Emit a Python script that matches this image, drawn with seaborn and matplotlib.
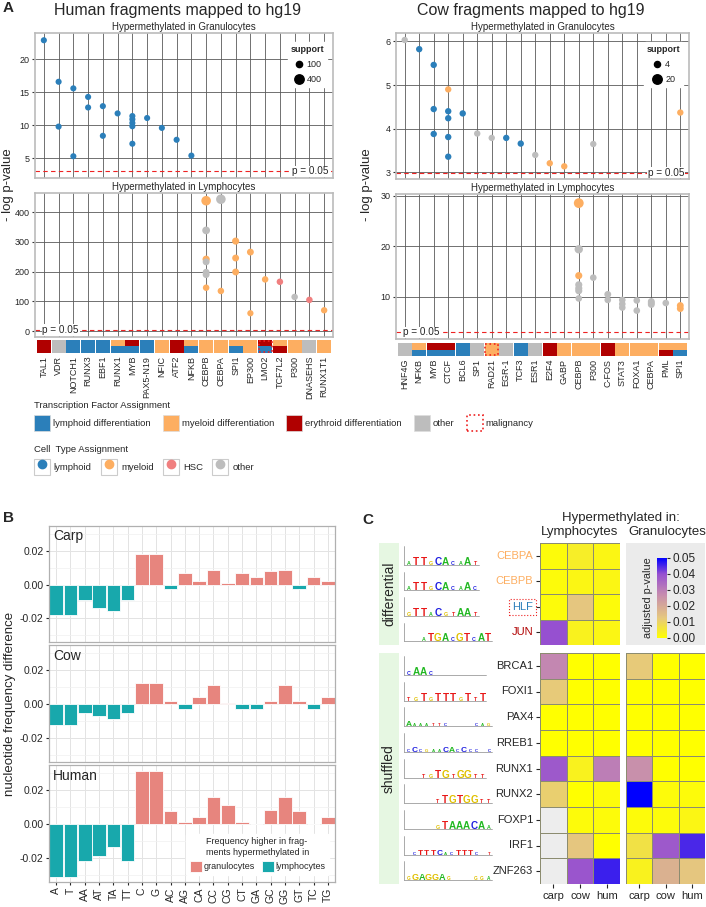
import numpy as np
import pandas as pd
import matplotlib
matplotlib.use('Agg')
import matplotlib.pyplot as plt
import seaborn as sns
from matplotlib.patches import Patch, Rectangle
from matplotlib.lines import Line2D
from matplotlib.colors import LinearSegmentedColormap
from matplotlib.transforms import blended_transform_factory

# ---------------- panel A: human fragments ----------------
human_tfs = ['TAL1', 'VDR', 'NOTCH1', 'RUNX3', 'EBF1', 'RUNX1', 'MYB', 'PAX5-N19', 'NFIC', 'ATF2',
             'NFKB', 'CEBPB', 'CEBPA', 'SPI1', 'EP300', 'LMO2', 'TCF7L2', 'P300', 'DNASEHS', 'RUNX1T1']
# TF assignment of each tile (upper / lower half): L lymphoid, M myeloid, E erythroid, O other
human_tf_upper = ['E', 'O', 'L', 'L', 'L', 'M', 'E', 'L', 'M', 'E', 'M', 'M', 'M', 'M', 'M', 'E', 'M', 'M', 'O', 'M']
human_tf_lower = ['E', 'O', 'L', 'L', 'L', 'L', 'L', 'L', 'M', 'E', 'L', 'M', 'M', 'L', 'M', 'L', 'E', 'M', 'O', 'M']
human_malignancy = ['LMO2']

human_gran_tf = ['TAL1', 'VDR', 'VDR', 'NOTCH1', 'NOTCH1', 'RUNX3', 'RUNX3', 'EBF1', 'EBF1', 'RUNX1',
                 'MYB', 'MYB', 'MYB', 'MYB', 'MYB', 'PAX5-N19', 'NFIC', 'ATF2', 'NFKB']
human_gran_logp = [22.9, 16.6, 9.8, 15.6, 5.3, 14.3, 12.7, 12.9, 8.4, 11.8,
                   11.4, 10.9, 10.35, 9.85, 7.2, 11.1, 9.6, 7.8, 5.4]
human_gran_cell = ['lymphoid'] * 19
human_gran_support = [90] * 19

human_lymph_tf = ['CEBPB'] * 7 + ['CEBPA'] * 2 + ['SPI1'] * 3 + ['EP300'] * 2 + ['LMO2', 'TCF7L2', 'P300', 'DNASEHS', 'RUNX1T1']
human_lymph_logp = [439, 339, 242, 233, 198, 190, 146, 444, 135, 303, 246, 199, 266, 60, 174, 166, 115, 105, 70]
human_lymph_cell = ['myeloid', 'other', 'myeloid', 'other', 'other', 'other', 'myeloid', 'other', 'myeloid',
                    'myeloid', 'myeloid', 'myeloid', 'myeloid', 'myeloid', 'myeloid', 'HSC', 'other', 'HSC', 'myeloid']
human_lymph_support = [420, 230, 180, 150, 150, 150, 120, 420, 120, 170, 150, 150, 150, 100, 120, 120, 120, 120, 110]

# ---------------- panel A: cow fragments ----------------
cow_tfs = ['HNF4G', 'NFKB', 'MYB', 'CTCF', 'BCL6', 'SP1', 'RAD21', 'EGR-1', 'TCF3', 'ESR1', 'E2F4', 'GABP',
           'CEBPB', 'P300', 'C-FOS', 'STAT3', 'FOXA1', 'CEBPA', 'PML', 'SPI1']
cow_tf_upper = ['O', 'M', 'E', 'E', 'L', 'O', 'M', 'O', 'L', 'O', 'E', 'M', 'M', 'M', 'E', 'M', 'M', 'M', 'M', 'M']
cow_tf_lower = ['O', 'L', 'L', 'L', 'L', 'O', 'M', 'O', 'L', 'O', 'E', 'M', 'M', 'M', 'E', 'M', 'M', 'M', 'E', 'L']
cow_malignancy = ['RAD21']

cow_gran_tf = ['HNF4G', 'NFKB', 'MYB', 'MYB', 'MYB', 'CTCF', 'CTCF', 'CTCF', 'CTCF', 'CTCF', 'BCL6', 'SP1',
               'RAD21', 'EGR-1', 'TCF3', 'ESR1', 'E2F4', 'GABP', 'P300', 'SPI1']
cow_gran_logp = [6.03, 5.82, 5.46, 4.45, 3.88, 4.9, 4.4, 4.24, 3.81, 3.36, 4.35, 3.89,
                 3.79, 3.79, 3.66, 3.40, 3.21, 3.14, 3.65, 4.37]
cow_gran_cell = ['other', 'lymphoid', 'lymphoid', 'lymphoid', 'lymphoid', 'myeloid', 'lymphoid', 'lymphoid',
                 'lymphoid', 'lymphoid', 'lymphoid', 'other', 'other', 'lymphoid', 'lymphoid', 'other',
                 'myeloid', 'myeloid', 'other', 'myeloid']
cow_gran_support = [5] * 20

cow_lymph_tf = ['CEBPB'] * 7 + ['P300'] + ['C-FOS'] * 2 + ['STAT3'] * 3 + ['FOXA1'] * 2 + ['CEBPA'] * 3 + ['PML'] + ['SPI1'] * 2
cow_lymph_logp = [28.5, 19.4, 14.2, 12.4, 11.7, 11.2, 9.7, 13.8, 10.5, 9.4, 9.4, 8.6, 7.9,
                  9.3, 7.3, 9.1, 8.8, 8.5, 8.8, 8.3, 7.7]
cow_lymph_cell = ['myeloid', 'other', 'myeloid'] + ['other'] * 16 + ['myeloid', 'myeloid']
cow_lymph_support = [22, 14, 8, 8, 8, 8, 6, 6, 7, 6, 6, 6, 6, 6, 6, 7, 7, 7, 6, 7, 7]

# ---------------- panel B ----------------
kmers = ['A', 'T', 'AA', 'AT', 'TA', 'TT', 'C', 'G', 'AC', 'AG', 'CA', 'CC', 'CG', 'CT', 'GA', 'GC', 'GG', 'GT', 'TC', 'TG']
carp_diff = [-0.0183, -0.0183, -0.0090, -0.0139, -0.0157, -0.0090, 0.0183, 0.0183, -0.0026, 0.0070,
             0.0022, 0.0086, 0.0010, 0.0070, 0.0044, 0.0080, 0.0086, -0.0026, 0.0044, 0.0022]
cow_diff = [-0.0127, -0.0127, -0.0053, -0.0073, -0.0087, -0.0053, 0.0125, 0.0125, 0.0020, -0.0032,
            0.0044, 0.0113, 0.0003, -0.0032, -0.0032, 0.0016, 0.0113, 0.0020, -0.0032, 0.0044]
human_diff = [-0.0314, -0.0314, -0.0220, -0.0190, -0.0136, -0.0220, 0.0314, 0.0314, 0.0076, 0.0012,
              0.0042, 0.0158, 0.0110, 0.0012, -0.0002, 0.0084, 0.0158, 0.0076, -0.0002, 0.0042]

# ---------------- panel C ----------------
species = ['carp', 'cow', 'hum']
diff_motifs = ['CEBPA', 'CEBPB', 'HLF', 'JUN']
diff_motif_class = ['M', 'M', 'L', 'E']
diff_logos = ['aTTgCAcaAt', 'aTTgCAcaAc', 'gTTaCgtAAt', '..aTGAcGTcAT']
lymph_diff_p = [[0.001, 0.004, 0.002],
                [0.001, 0.002, 0.002],
                [0.001, 0.013, 0.001],
                [0.040, 0.003, 0.002]]
shuf_motifs = ['BRCA1', 'FOXI1', 'PAX4', 'RREB1', 'RUNX1', 'RUNX2', 'FOXP1', 'IRF1', 'ZNF263']
shuf_logos = ['cAAc.......', 'tgTgTTTgTtT', 'Aaaattc....cag', 'cCcgaaCAcCcc.c', '..tgTGtGGtt',
              '....tTGTGGtt', '....gTAAACAa', '.cTTTCacTTTc.t', 'gGAGGAg...gga']
lymph_shuf_p = [[0.028, 0.0, 0.0],
                [0.012, 0.0, 0.0],
                [0.0, 0.0, 0.0],
                [0.0, 0.0, 0.0],
                [0.038, 0.003, 0.030],
                [0.011, 0.0, 0.001],
                [np.nan, 0.001, 0.001],
                [np.nan, 0.013, 0.0],
                [np.nan, 0.039, 0.046]]
gran_shuf_p = [[0.012, 0.0, 0.0],
               [0.0, 0.0, 0.0],
               [0.0, 0.0, 0.0],
               [0.0, 0.0, 0.0],
               [0.026, 0.0, 0.0],
               [0.050, 0.001, 0.001],
               [0.001, 0.001, 0.002],
               [0.007, 0.038, 0.045],
               [0.003, 0.018, 0.013]]

# ---------------- style ----------------
sns.set_style('white')
plt.rcParams['font.family'] = ['Liberation Sans', 'DejaVu Sans']
plt.rcParams['axes.unicode_minus'] = False

cell_pal = {'lymphoid': '#2b7fba', 'myeloid': '#fdae61', 'HSC': '#f07f7f', 'other': '#bdbdbd'}
tf_pal = {'L': '#2b7fba', 'M': '#fdae61', 'E': '#b00000', 'O': '#bdbdbd'}
base_colors = {'A': '#22b822', 'C': '#2020e0', 'G': '#e0c000', 'T': '#e81818'}
pv_cmap = LinearSegmentedColormap.from_list(
    'pv', [(0, '#ffff00'), (0.25, '#e6c87e'), (0.55, '#c58ab0'), (0.8, '#9650d0'), (1, '#0000ff')])
p_line = -np.log(0.05)

W, H = 706, 907
fig = plt.figure(figsize=(W / 100, H / 100), dpi=100)


def box(l, t, r, b):
    return [l / W, 1 - b / H, (r - l) / W, (b - t) / H]


def draw_points(ax, tfs, tf_col, logp, cell, support, size_norm):
    df = pd.DataFrame({'tf': tf_col, 'logp': logp, 'cell': cell, 'support': support})
    df['pos'] = pd.Categorical(df['tf'], categories=tfs).codes
    sns.scatterplot(data=df, x='pos', y='logp', hue='cell', palette=cell_pal, size='support',
                    sizes=(16, 50), size_norm=size_norm, linewidth=0, legend=False, ax=ax, zorder=3)
    ax.set_xlim(-0.6, len(tfs) - 0.4)
    ax.set_xticks(range(len(tfs)))
    ax.set_xticklabels([])
    ax.set_xlabel('')
    ax.set_ylabel('')
    ax.grid(True, color='#5a5a5a', lw=0.6)
    ax.set_axisbelow(True)
    ax.tick_params(axis='x', length=0)
    ax.tick_params(axis='y', left=True, labelsize=6.5, length=2.5, color='#333333', pad=1.5)
    for s in ax.spines.values():
        s.set_color('#bbbbbb')
        s.set_linewidth(1.2)
    ax.axhline(p_line, color='#ee2222', ls=(0, (4, 3)), lw=0.8, zorder=2)


def p_label(ax, right):
    trans = blended_transform_factory(ax.transAxes, ax.transData)
    x = 0.985 if right else 0.025
    ax.text(x, p_line, 'p = 0.05', transform=trans, ha='right' if right else 'left', va='center',
            fontsize=7.2, bbox=dict(fc='white', ec='none', pad=0.6), zorder=4)


def support_legend(ax, values, size_norm):
    lo, hi = size_norm
    handles = [Line2D([], [], ls='', marker='o', color='black',
                      markersize=np.sqrt(16 + (v - lo) / (hi - lo) * 34)) for v in values]
    ax.legend(handles, [str(v) for v in values], title='support', loc='upper right',
              bbox_to_anchor=(0.995, 0.97), fontsize=6.5,
              title_fontproperties={'weight': 'bold', 'size': 6.5}, frameon=True, framealpha=1,
              edgecolor='white', borderpad=0.3, labelspacing=0.7, handletextpad=0.3, handlelength=1.2)


def draw_tiles(ax, tfs, upper, lower, malignant):
    pos = np.arange(len(tfs))
    ax.bar(pos, 0.5, bottom=0.5, width=0.94, color=[tf_pal[c] for c in upper], edgecolor='none', linewidth=0)
    ax.bar(pos, 0.5, bottom=0.0, width=0.94, color=[tf_pal[c] for c in lower], edgecolor='none', linewidth=0)
    for name in malignant:
        i = tfs.index(name)
        ax.add_patch(Rectangle((i - 0.45, 0.04), 0.9, 0.92, fill=False, ec='#ee2222', ls=':', lw=1.2))
    ax.set_xlim(-0.6, len(tfs) - 0.4)
    ax.set_ylim(0, 1)
    ax.set_xticks(pos)
    ax.set_xticklabels(tfs, rotation=90, fontsize=6.5)
    ax.set_yticks([])
    ax.tick_params(axis='x', length=0, pad=2)
    for s in ax.spines.values():
        s.set_visible(False)


# ---- A left: human
ax = fig.add_axes(box(35, 33, 333, 178))
draw_points(ax, human_tfs, human_gran_tf, human_gran_logp, human_gran_cell, human_gran_support, (50, 450))
ax.set_ylim(2.0, 24.0)
ax.set_yticks([5, 10, 15, 20])
ax.set_title('Hypermethylated in Granulocytes', fontsize=7, pad=2.5)
p_label(ax, True)
support_legend(ax, [100, 400], (50, 450))

ax = fig.add_axes(box(35, 193, 333, 337))
draw_points(ax, human_tfs, human_lymph_tf, human_lymph_logp, human_lymph_cell, human_lymph_support, (50, 450))
ax.set_ylim(-20, 465)
ax.set_yticks([0, 100, 200, 300, 400])
ax.set_title('Hypermethylated in Lymphocytes', fontsize=7, pad=2.5)
p_label(ax, False)

ax = fig.add_axes(box(35, 340, 333, 353))
draw_tiles(ax, human_tfs, human_tf_upper, human_tf_lower, human_malignancy)

# ---- A right: cow
ax = fig.add_axes(box(396, 33, 689, 179))
draw_points(ax, cow_tfs, cow_gran_tf, cow_gran_logp, cow_gran_cell, cow_gran_support, (2, 22))
ax.set_ylim(2.85, 6.19)
ax.set_yticks([3, 4, 5, 6])
ax.set_title('Hypermethylated in Granulocytes', fontsize=7, pad=2.5)
p_label(ax, True)
support_legend(ax, [4, 20], (2, 22))

ax = fig.add_axes(box(396, 194, 689, 339))
draw_points(ax, cow_tfs, cow_lymph_tf, cow_lymph_logp, cow_lymph_cell, cow_lymph_support, (2, 22))
ax.set_ylim(1.7, 30.3)
ax.set_yticks([10, 20, 30])
ax.set_title('Hypermethylated in Lymphocytes', fontsize=7, pad=2.5)
p_label(ax, False)

ax = fig.add_axes(box(396, 343, 689, 356))
draw_tiles(ax, cow_tfs, cow_tf_upper, cow_tf_lower, cow_malignancy)

fig.text(178 / W, 1 - 10 / H, 'Human fragments mapped to hg19', ha='center', va='center', fontsize=11.5)
fig.text(531 / W, 1 - 10 / H, 'Cow fragments mapped to hg19', ha='center', va='center', fontsize=11.5)
fig.text(8 / W, 1 - 185 / H, '- log p-value', rotation=90, ha='center', va='center', fontsize=9.5)
fig.text(367 / W, 1 - 185 / H, '- log p-value', rotation=90, ha='center', va='center', fontsize=9.5)

# ---- A legends
tf_handles = [Patch(fc=tf_pal[k], ec='#dddddd', lw=0.5) for k in ['L', 'M', 'E', 'O']]
tf_handles.append(Patch(fc='white', ec='#ee2222', ls=':', lw=1.2))
tf_labels = ['lymphoid differentiation', 'myeloid differentiation', 'erythroid differentiation', 'other', 'malignancy']
fig.legend(tf_handles, tf_labels, loc='upper left', bbox_to_anchor=(34 / W, 1 - 401 / H), ncol=5,
           frameon=False, title='Transcription Factor Assignment', alignment='left', fontsize=6.8,
           title_fontsize=6.8, handlelength=1.7, handleheight=2.3, handletextpad=0.3,
           columnspacing=1.3, borderpad=0, borderaxespad=0)

cell_order = ['lymphoid', 'myeloid', 'HSC', 'other']
cell_handles = [(Patch(fc='white', ec='#cccccc', lw=0.8),
                 Line2D([], [], ls='', marker='o', ms=6, color=cell_pal[c])) for c in cell_order]
fig.legend(cell_handles, cell_order, loc='upper left', bbox_to_anchor=(34 / W, 1 - 445 / H), ncol=4,
           frameon=False, title='Cell  Type Assignment', alignment='left', fontsize=6.8,
           title_fontsize=6.8, handlelength=1.7, handleheight=2.3, handletextpad=0.4,
           columnspacing=1.0, borderpad=0, borderaxespad=0)

# ---------------- panel B ----------------
b_rows = [('Carp', carp_diff, 526, 642), ('Cow', cow_diff, 645, 762), ('Human', human_diff, 765, 882)]
for name, vals, top, bottom in b_rows:
    ax = fig.add_axes(box(49, top, 335, bottom))
    d = pd.DataFrame({'kmer': kmers, 'diff': vals})
    d['higher'] = np.where(d['diff'] > 0, 'granulocytes', 'lymphocytes')
    sns.barplot(data=d, x='kmer', y='diff', hue='higher', order=kmers,
                hue_order=['granulocytes', 'lymphocytes'],
                palette={'granulocytes': '#f8766d', 'lymphocytes': '#00bfc4'},
                dodge=False, width=0.95, edgecolor='white', linewidth=0.6,
                legend=(name == 'Human'), ax=ax)
    ax.set_ylim(-0.0343, 0.0349)
    ax.set_yticks([-0.02, 0.0, 0.02])
    ax.set_yticks([-0.03, -0.01, 0.01, 0.03], minor=True)
    ax.grid(which='major', color='#e3e3e3', lw=0.7)
    ax.grid(which='minor', axis='y', color='#f0f0f0', lw=0.5)
    ax.set_axisbelow(True)
    ax.set_xlabel('')
    ax.set_ylabel('')
    for s in ax.spines.values():
        s.set_color('#b0b0b0')
        s.set_linewidth(0.9)
    ax.tick_params(axis='y', which='major', left=True, labelsize=7.5, length=2.5, pad=1.5)
    ax.tick_params(axis='y', which='minor', left=False)
    ax.text(0.015, 0.97, name, transform=ax.transAxes, ha='left', va='top', fontsize=10)
    if name == 'Human':
        ax.tick_params(axis='x', bottom=True, labelsize=7.5, length=2.5, rotation=90, pad=1.5)
        h, l = ax.get_legend_handles_labels()
        ax.legend(h, l, title='Frequency higher in frag-\nments hypermethylated in', loc='lower right',
                  bbox_to_anchor=(0.995, 0.02), ncol=2, fontsize=6.5, title_fontsize=6.5,
                  frameon=True, facecolor='white', edgecolor='white', framealpha=1,
                  handlelength=1.3, handleheight=1.4, handletextpad=0.2, columnspacing=0.8,
                  borderpad=0.4)
    else:
        ax.set_xticklabels([])
        ax.tick_params(axis='x', length=0)

fig.text(10 / W, 1 - 704 / H, 'nucleotide frequency difference', rotation=90, ha='center', va='center',
         fontsize=9.5)

# ---------------- panel C ----------------
for top, bottom, label in [(543, 645, 'differential'), (653, 884, 'shuffled')]:
    fig.add_artist(Rectangle((379 / W, 1 - bottom / H), 20 / W, (bottom - top) / H,
                             transform=fig.transFigure, fc='#e6f7e2', ec='none'))
    fig.text(389 / W, 1 - (top + bottom) / 2 / H, label, rotation=90, ha='center', va='center', fontsize=10)


def draw_logos(ax, motifs):
    # simple stand-in for sequence logos: consensus letters, strong positions large
    ax.set_xlim(0, 12.5)
    ax.set_ylim(len(motifs), 0)
    ax.axis('off')
    for r, motif in enumerate(motifs):
        base = r + 0.86
        step = min(1.0, 11.8 / len(motif))
        ax.plot([0.15, 0.15], [r + 0.12, base], color='#888888', lw=0.5)
        ax.plot([0.15, 0.3 + step * len(motif)], [base, base], color='#888888', lw=0.5)
        for j, ch in enumerate(motif):
            if ch == '.':
                continue
            fs = (7.2 if ch.isupper() else 3.8) * step
            ax.text(0.3 + step * (j + 0.5), base, ch.upper(), color=base_colors[ch.upper()],
                    fontsize=fs, fontweight='bold', ha='center', va='baseline')


draw_logos(fig.add_axes(box(403, 543, 495, 645)), diff_logos)
draw_logos(fig.add_axes(box(403, 653, 495, 884)), shuf_logos)

hm_kw = dict(cmap=pv_cmap, vmin=0, vmax=0.05, linewidths=0.4, linecolor='#8c8c70')

ax = fig.add_axes(box(540, 543, 620, 645))
sns.heatmap(pd.DataFrame(lymph_diff_p, index=diff_motifs, columns=species), ax=ax, cbar=False,
            xticklabels=False, **hm_kw)
ax.tick_params(axis='y', left=True, length=3, labelsize=8, pad=2, labelrotation=0)
for lbl, cls in zip(ax.get_yticklabels(), diff_motif_class):
    lbl.set_color(tf_pal[cls])
    if cls == 'L':
        lbl.set_bbox(dict(boxstyle='square,pad=0.25', fc='none', ec='#ee2222', ls=':', lw=0.8))

ax = fig.add_axes(box(540, 653, 620, 884))
ax.set_facecolor('#ededed')
sns.heatmap(pd.DataFrame(lymph_shuf_p, index=shuf_motifs, columns=species), ax=ax, cbar=False, **hm_kw)
ax.tick_params(axis='y', left=True, length=3, labelsize=8, pad=2, labelrotation=0)
ax.tick_params(axis='x', bottom=True, length=3, labelsize=8, pad=2, labelrotation=0)

bg = fig.add_axes(box(626, 543, 705, 645))
bg.set_facecolor('#ebebeb')
bg.set_xticks([])
bg.set_yticks([])
for s in bg.spines.values():
    s.set_visible(False)
cax = fig.add_axes(box(657, 558, 667, 638))

ax = fig.add_axes(box(626, 653, 705, 884))
ax.set_facecolor('#ededed')
sns.heatmap(pd.DataFrame(gran_shuf_p, index=shuf_motifs, columns=species), ax=ax, cbar_ax=cax,
            yticklabels=False, cbar_kws={'ticks': [0, 0.01, 0.02, 0.03, 0.04, 0.05], 'format': '%.2f'},
            **hm_kw)
ax.tick_params(axis='x', bottom=True, length=3, labelsize=8, pad=2, labelrotation=0)
cax.tick_params(labelsize=8.5, length=2, pad=2)
cax.yaxis.set_label_position('left')
cax.set_ylabel('adjusted p-value', fontsize=7.8, labelpad=3)

fig.text(621 / W, 1 - 518 / H, 'Hypermethylated in:', ha='center', va='center', fontsize=9.5)
fig.text(580 / W, 1 - 532 / H, 'Lymphocytes', ha='center', va='center', fontsize=9.5)
fig.text(667 / W, 1 - 532 / H, 'Granulocytes', ha='center', va='center', fontsize=9.5)

# panel letters
fig.text(3 / W, 1 - 8 / H, 'A', fontweight='bold', fontsize=11, va='center')
fig.text(3 / W, 1 - 518 / H, 'B', fontweight='bold', fontsize=11, va='center')
fig.text(362 / W, 1 - 520 / H, 'C', fontweight='bold', fontsize=11, va='center')

fig.savefig('out.png', dpi=100)
